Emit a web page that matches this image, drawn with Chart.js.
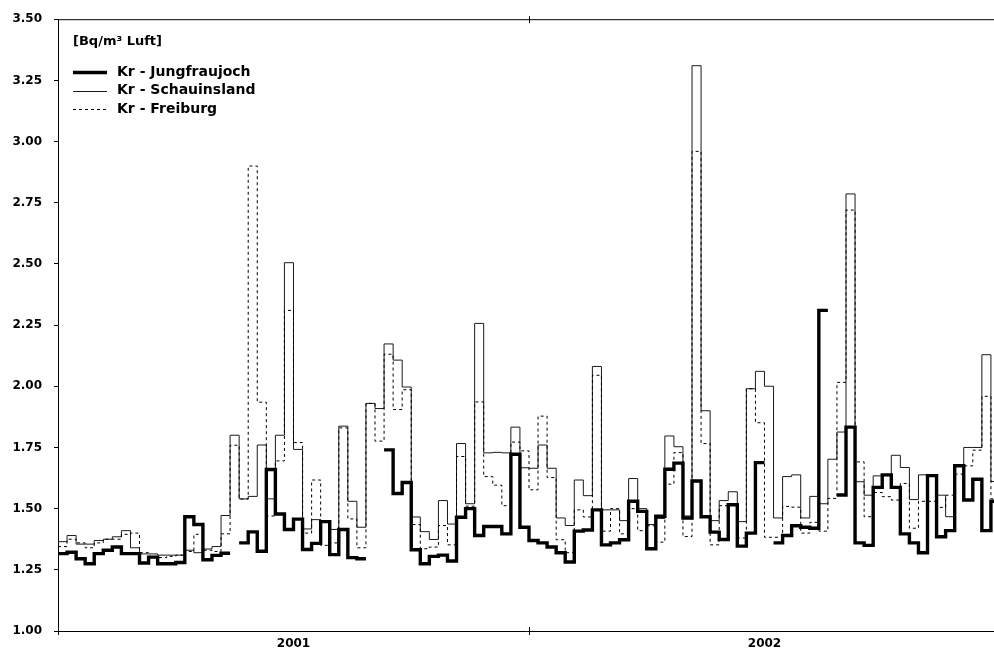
<!DOCTYPE html>
<html>
<head>
<meta charset="utf-8">
<script src="https://cdn.jsdelivr.net/npm/chart.js@4/dist/chart.umd.min.js"></script>
<style>
    html, body { margin: 0; padding: 0; background: #fff; overflow: hidden; }
</style>
</head>
<body>
<canvas id="krChart" width="994" height="655"></canvas>
<script>
// Kr-85 weekly activity, week 0 = first week of 2001
const yearLabels = ['2001', '2002'];
const weeksPerYear = 52;
const yTicks = [1.00, 1.25, 1.50, 1.75, 2.00, 2.25, 2.50, 2.75, 3.00, 3.25, 3.50];
const unitTitle = '[Bq/m³ Luft]';
const seriesNames = ['Kr - Jungfraujoch', 'Kr - Schauinsland', 'Kr - Freiburg'];

const jungfraujoch = [
    1.316, 1.322, 1.295, 1.275, 1.316, 1.33, 1.343, 1.316, 1.316, 1.278,
    1.302, 1.275, 1.275, 1.28, 1.467, 1.435, 1.291, 1.309, 1.318, null,
    1.36, 1.405, 1.326, 1.66, 1.478, 1.415, 1.457, 1.333, 1.358, 1.447,
    1.312, 1.415, 1.30, 1.295, null, null, 1.74, 1.562, 1.607, 1.332,
    1.275, 1.305, 1.31, 1.286, 1.465, 1.50, 1.39, 1.427, 1.427, 1.397,
    1.722, 1.424, 1.37, 1.36, 1.343, 1.32, 1.282, 1.408, 1.413, 1.495,
    1.352, 1.36, 1.373, 1.53, 1.489, 1.336, 1.469, 1.661, 1.686, 1.462,
    1.613, 1.467, 1.404, 1.374, 1.516, 1.347, 1.40, 1.688, null, 1.36,
    1.39, 1.43, 1.424, 1.42, 2.31, null, 1.556, 1.833, 1.36, 1.35,
    1.587, 1.638, 1.587, 1.397, 1.36, 1.32, 1.635, 1.385, 1.41, 1.675,
    1.535, 1.62, 1.41, 1.53
];

const schauinsland = [
    1.365, 1.39, 1.355, 1.355, 1.37, 1.375, 1.385, 1.41, 1.34, 1.315,
    1.315, 1.31, 1.31, 1.31, 1.33, 1.32, 1.335, 1.345, 1.472, 1.80,
    1.54, 1.55, 1.76, 1.54, 1.80, 2.505, 1.742, 1.417, 1.455, 1.448,
    1.415, 1.837, 1.53, 1.424, 1.93, 1.909, 2.173, 2.107, 1.997, 1.466,
    1.406, 1.374, 1.533, 1.437, 1.766, 1.52, 2.257, 1.728, 1.73, 1.728,
    1.833, 1.667, 1.665, 1.76, 1.665, 1.462, 1.431, 1.617, 1.553, 2.081,
    1.495, 1.495, 1.451, 1.623, 1.50, 1.435, 1.46, 1.797, 1.753, 1.47,
    3.31, 1.90, 1.451, 1.533, 1.569, 1.447, 1.99, 2.061, 2.00, 1.462,
    1.631, 1.638, 1.462, 1.55, 1.52, 1.702, 1.813, 2.786, 1.61, 1.555,
    1.634, 1.635, 1.718, 1.668, 1.537, 1.638, 1.638, 1.555, 1.467, 1.675,
    1.75, 1.75, 2.129, 1.611
];

const freiburg = [
    1.345, 1.375, 1.36, 1.34, 1.36, 1.375, 1.375, 1.395, 1.40, 1.32,
    1.305, 1.30, 1.305, 1.31, 1.325, 1.395, 1.33, 1.325, 1.397, 1.759,
    1.539, 2.90, 1.935, 1.47, 1.695, 2.31, 1.77, 1.40, 1.617, 1.35,
    1.36, 1.83, 1.458, 1.34, 1.93, 1.776, 2.131, 1.905, 1.986, 1.435,
    1.336, 1.343, 1.431, 1.352, 1.713, 1.51, 1.936, 1.631, 1.596, 1.512,
    1.772, 1.736, 1.577, 1.878, 1.627, 1.373, 1.32, 1.495, 1.466, 2.045,
    1.408, 1.50, 1.397, 1.50, 1.41, 1.43, 1.363, 1.60, 1.729, 1.386,
    2.96, 1.766, 1.352, 1.512, 1.52, 1.38, 1.99, 1.851, 1.383, 1.383,
    1.509, 1.506, 1.40, 1.444, 1.408, 1.542, 2.016, 2.72, 1.691, 1.467,
    1.566, 1.549, 1.535, 1.603, 1.42, 1.53, 1.53, 1.505, 1.555, 1.641,
    1.675, 1.739, 1.959, 1.54
];

const FONT = "'DejaVu Sans', sans-serif";

// each value holds for one week -> add end point, break on missing weeks
function stepPoints(values) {
    const pts = [];
    values.forEach((v, i) => {
        if (v === null) return;
        pts.push({ x: i, y: v });
        const next = values[i + 1];
        if (next === null || next === undefined) {
            pts.push({ x: i + 1, y: v });
            pts.push({ x: i + 1, y: null });
        }
    });
    return pts;
}

// top frame line, centre ticks and the in-plot legend
const framePlugin = {
    id: 'frame',
    afterDraw(chart) {
        const { ctx, chartArea } = chart;
        const xs = chart.scales.x;
        ctx.save();
        ctx.strokeStyle = '#000';
        ctx.lineWidth = 1;
        ctx.setLineDash([]);
        ctx.beginPath();
        ctx.moveTo(chartArea.left, chartArea.top + 0.5);
        ctx.lineTo(chartArea.right, chartArea.top + 0.5);
        const mid = Math.round(xs.getPixelForValue(weeksPerYear)) + 0.5;
        ctx.moveTo(mid, chartArea.top - 3);
        ctx.lineTo(mid, chartArea.top + 4);
        ctx.moveTo(mid, chartArea.bottom - 4);
        ctx.lineTo(mid, chartArea.bottom + 4);
        ctx.moveTo(chartArea.left + 0.5, chartArea.bottom);
        ctx.lineTo(chartArea.left + 0.5, chartArea.bottom + 4);
        ctx.stroke();

        // legend
        const x0 = chartArea.left + 15;
        ctx.fillStyle = '#000';
        ctx.textBaseline = 'middle';
        ctx.textAlign = 'left';
        ctx.font = 'bold 13px ' + FONT;
        ctx.fillText(unitTitle, x0, 42);

        ctx.font = 'bold 14px ' + FONT;
        chart.data.datasets.forEach((ds, i) => {
            const y = 72 + i * 18.5;
            ctx.beginPath();
            ctx.lineWidth = ds.borderWidth;
            ctx.strokeStyle = ds.borderColor;
            ctx.setLineDash(ds.borderDash || []);
            ctx.moveTo(x0, Math.round(y) + 0.5);
            ctx.lineTo(x0 + 34, Math.round(y) + 0.5);
            ctx.stroke();
            ctx.fillText(ds.label, x0 + 44, y);
        });
        ctx.restore();
    }
};

const ctx = document.getElementById('krChart').getContext('2d');
new Chart(ctx, {
    type: 'line',
    data: {
        datasets: [{
            label: seriesNames[0],
            data: stepPoints(jungfraujoch),
            borderColor: '#000',
            borderWidth: 3.4,
            borderJoinStyle: 'miter',
            borderCapStyle: 'butt',
            stepped: 'before',
            pointRadius: 0,
            spanGaps: false,
            order: 0
        }, {
            label: seriesNames[1],
            data: stepPoints(schauinsland),
            borderColor: '#1a1a1a',
            borderWidth: 1,
            stepped: 'before',
            pointRadius: 0,
            spanGaps: false,
            order: 2
        }, {
            label: seriesNames[2],
            data: stepPoints(freiburg),
            borderColor: '#000',
            borderWidth: 1,
            borderDash: [3, 3],
            stepped: 'before',
            pointRadius: 0,
            spanGaps: false,
            order: 1
        }]
    },
    options: {
        responsive: false,
        animation: false,
        events: [],
        layout: { padding: { top: 17, right: 0, bottom: 0, left: 0 } },
        plugins: {
            legend: { display: false },
            tooltip: { enabled: false }
        },
        scales: {
            x: {
                type: 'linear',
                min: 0,
                max: 103.34,
                afterBuildTicks: axis => {
                    axis.ticks = yearLabels.map((_, k) => ({ value: k * weeksPerYear + weeksPerYear / 2 }));
                },
                afterFit: scale => { scale.height = 24; },
                grid: {
                    drawOnChartArea: false,
                    drawTicks: false
                },
                border: { display: true, color: '#000', width: 1 },
                ticks: {
                    autoSkip: false,
                    maxRotation: 0,
                    padding: 6,
                    color: '#000',
                    font: { family: FONT, size: 12, weight: 'bold' },
                    callback: value => yearLabels[Math.floor(value / weeksPerYear)] || ''
                }
            },
            y: {
                min: 1,
                max: 3.5,
                afterBuildTicks: axis => {
                    axis.ticks = yTicks.map(v => ({ value: v }));
                },
                afterFit: scale => { scale.width = 58; },
                grid: {
                    drawOnChartArea: false,
                    tickLength: 4,
                    tickColor: '#000'
                },
                border: { display: true, color: '#000', width: 1 },
                ticks: {
                    padding: 12,
                    color: '#000',
                    font: { family: FONT, size: 12, weight: 'bold' },
                    callback: value => value.toFixed(2)
                }
            }
        }
    },
    plugins: [framePlugin]
});
</script>
</body>
</html>
